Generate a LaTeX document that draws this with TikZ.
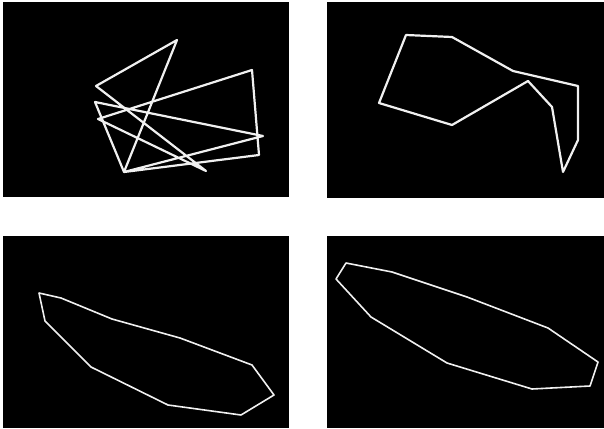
\documentclass[tikz,border=0pt]{standalone}
\usepackage{tikz}

\tikzset{
	panel/.style={fill=black, draw=none},
	thickpath/.style={draw=white!94!black, line width=2.2pt, line join=round},
	thinpath/.style={draw=white!94!black, line width=1.6pt, line join=round}
}

\begin{document}
\begin{tikzpicture}[x=1pt, y=-1pt]
		\useasboundingbox (0,0) rectangle (604,428);

		% the four black panels
		\fill [panel] (3,2) rectangle (289,197);
		\fill [panel] (327,2) rectangle (604,198);
		\fill [panel] (3,236) rectangle (289,428);
		\fill [panel] (327,236) rectangle (604,428);

		% top left: self-crossing polygon
		\coordinate (a) at (177,40);
		\coordinate (b) at (96,86);
		\coordinate (i) at (206,171);
		\coordinate (d) at (98,119);
		\coordinate (f) at (252,70);
		\coordinate (g) at (259,155);
		\coordinate (e) at (124,172);
		\coordinate (h) at (263,136);
		\coordinate (c) at (95,102);
		\draw [thickpath] (a) -- (b) -- (i) -- (d) -- (f) -- (g) -- (e) -- (h) -- (c) -- (e) -- cycle;

		% top right: untangled polygon
		\draw [thickpath] (406,35) -- (452,37) -- (513,71) -- (578,86) -- (578,140)
			-- (563,172) -- (552,107) -- (528,81) -- (452,125) -- (379,103) -- cycle;

		% bottom left
		\draw [thinpath] (39,293) -- (61,298) -- (112,319) -- (180,338) -- (252,365)
			-- (274,395) -- (241,415) -- (168,405) -- (91,367) -- (45,321) -- cycle;

		% bottom right
		\draw [thinpath] (346,263) -- (392,272) -- (467,297) -- (548,328) -- (598,362)
			-- (590,386) -- (532,389) -- (447,363) -- (371,317) -- (336,279) -- cycle;
	\end{tikzpicture}
\end{document}
